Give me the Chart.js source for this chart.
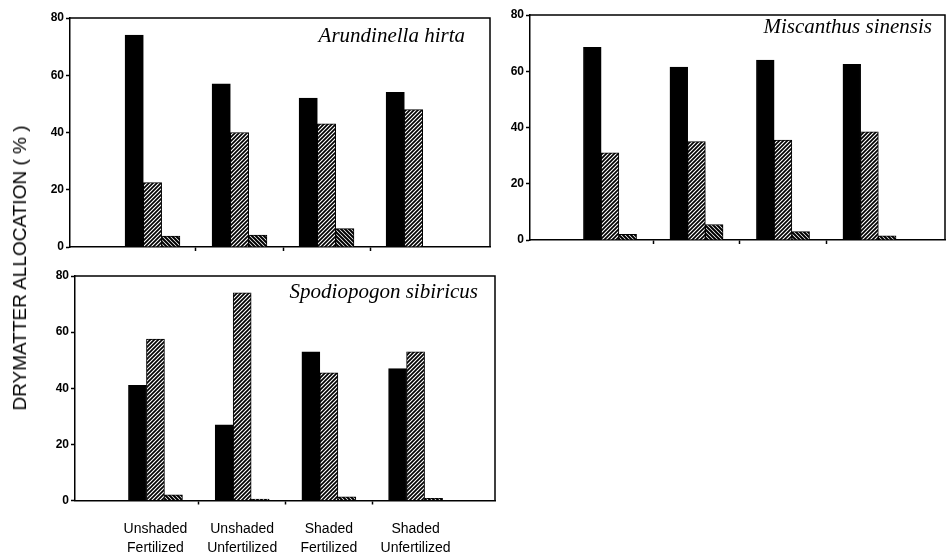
<!DOCTYPE html>
<html>
<head>
<meta charset="utf-8">
<script src="https://cdn.jsdelivr.net/npm/chart.js@4.4.1/dist/chart.umd.min.js"></script>
<style>
  body { margin: 0; background: #fff; width: 947px; height: 554px; position: relative; overflow: hidden; }
  canvas { position: absolute; }
  #ytitle {
    position: absolute; left: 20px; top: 268px;
    transform: translate(-50%, -50%) rotate(-90deg);
    font: 19px "Liberation Sans", Arial, sans-serif; white-space: nowrap; color: #000;
  }
</style>
</head>
<body>
<canvas id="arundinella" width="500" height="260" style="left:0;top:0"></canvas>
<canvas id="miscanthus" width="487" height="260" style="left:460px;top:0"></canvas>
<canvas id="spodiopogon" width="500" height="292" style="left:0;top:262px"></canvas>
<div id="ytitle">DRYMATTER ALLOCATION ( % )</div>
<script>
// treatments (x categories) and y ticks
const groups = [['Unshaded', 'Fertilized'], ['Unshaded', 'Unfertilized'], ['Shaded', 'Fertilized'], ['Shaded', 'Unfertilized']];
const yTicks = [0, 20, 40, 60, 80];

// dry matter allocation (%)
const arundinellaBlack = [74, 57, 52, 54];
const arundinellaHatched = [22.5, 40, 43, 48];
const arundinellaDark = [3.8, 4.2, 6.4, 0];

const miscanthusBlack = [68.5, 61.5, 64, 62.5];
const miscanthusHatched = [31, 35, 35.5, 38.5];
const miscanthusDark = [2, 5.5, 3, 1.5];

const spodiopogonBlack = [41, 27, 53, 47];
const spodiopogonHatched = [57.5, 74, 45.5, 53];
const spodiopogonDark = [2, 0.5, 1.3, 0.8];

function hatch(dir, s, lw) {
  const c = document.createElement('canvas');
  c.width = s; c.height = s;
  const g = c.getContext('2d');
  g.fillStyle = '#fff';
  g.fillRect(0, 0, s, s);
  g.strokeStyle = '#000';
  g.lineWidth = lw;
  g.beginPath();
  if (dir === '/') {
    g.moveTo(-1, s + 1); g.lineTo(s + 1, -1);
    g.moveTo(-1, 1); g.lineTo(1, -1);
    g.moveTo(s - 1, s + 1); g.lineTo(s + 1, s - 1);
  } else {
    g.moveTo(-1, -1); g.lineTo(s + 1, s + 1);
    g.moveTo(s - 1, -1); g.lineTo(s + 1, 1);
    g.moveTo(-1, s - 1); g.lineTo(1, s + 1);
  }
  g.stroke();
  return g.createPattern(c, 'repeat');
}

const slashFill = hatch('/', 4, 1.7);
const backFill = hatch('\\', 4, 2);

// frame (top + right) and species name inside the box
const framePlugin = {
  id: 'frame',
  afterDraw(chart, args, opts) {
    const { ctx, chartArea: a } = chart;
    ctx.save();
    ctx.strokeStyle = '#000';
    ctx.lineWidth = 1.5;
    ctx.beginPath();
    ctx.moveTo(a.left, a.top);
    ctx.lineTo(a.right, a.top);
    ctx.lineTo(a.right, a.bottom);
    ctx.stroke();
    ctx.font = 'italic 21px "Liberation Serif", "Times New Roman", serif';
    ctx.fillStyle = '#000';
    ctx.textAlign = 'right';
    ctx.textBaseline = 'alphabetic';
    ctx.fillText(opts.text, a.right - opts.dx, a.top + opts.dy);
    ctx.restore();
  }
};

function makeChart(id, black, hatched, dark, cfg) {
  const pts = arr => arr.map((v, i) => ({ x: i + 1, y: v }));
  const ds = (data, fill) => ({
    data: pts(data),
    backgroundColor: fill,
    borderColor: '#000',
    borderWidth: 1,
    barThickness: cfg.bar
  });
  return new Chart(document.getElementById(id), {
    type: 'bar',
    data: {
      datasets: [ds(black, '#000'), ds(hatched, slashFill), ds(dark, backFill)]
    },
    options: {
      responsive: false,
      animation: false,
      devicePixelRatio: 1,
      layout: { padding: { top: cfg.top, right: cfg.right, left: 0, bottom: 0 } },
      plugins: {
        legend: { display: false },
        tooltip: { enabled: false },
        frame: { text: cfg.title, dx: cfg.dx, dy: cfg.dy }
      },
      scales: {
        x: {
          type: 'linear',
          offset: false,
          min: cfg.xmin,
          max: cfg.xmax,
          afterBuildTicks: s => { s.ticks = [1, 1.5, 2, 2.5, 3, 3.5, 4].map(v => ({ value: v })); },
          afterFit: s => { s.height = cfg.xh; },
          border: { display: true, color: '#000', width: 1.5 },
          grid: {
            offset: false,
            drawOnChartArea: false,
            tickLength: 4,
            tickWidth: 1.5,
            tickColor: c => (c.tick && Number.isInteger(c.tick.value)) ? 'rgba(0,0,0,0)' : '#000'
          },
          ticks: {
            autoSkip: false,
            maxRotation: 0,
            padding: 15,
            color: '#000',
            font: { family: '"Liberation Sans", Arial, sans-serif', size: 14, lineHeight: 1.35 },
            callback: v => (cfg.labels && Number.isInteger(v)) ? groups[v - 1] : ''
          }
        },
        y: {
          min: 0,
          max: 80,
          afterBuildTicks: s => { s.ticks = yTicks.map(v => ({ value: v })); },
          afterFit: s => { s.width = cfg.yw; },
          border: { display: true, color: '#000', width: 1.5 },
          grid: { drawOnChartArea: false, tickLength: 4, tickWidth: 1.5, tickColor: '#000' },
          ticks: {
            padding: 2,
            color: '#000',
            font: { family: '"Liberation Sans", Arial, sans-serif', size: 12, weight: 'bold' }
          }
        }
      }
    },
    plugins: [framePlugin]
  });
}

makeChart('arundinella', arundinellaBlack, arundinellaHatched, arundinellaDark, {
  title: 'Arundinella hirta', dx: 25, dy: 24,
  top: 18, right: 10, yw: 70, xh: 13, bar: 18.3,
  xmin: 0.052, xmax: 4.879, labels: false
});

makeChart('miscanthus', miscanthusBlack, miscanthusHatched, miscanthusDark, {
  title: 'Miscanthus sinensis', dx: 13, dy: 18,
  top: 15, right: 2, yw: 70, xh: 20, bar: 17.7,
  xmin: 0.075, xmax: 4.873, labels: false
});

makeChart('spodiopogon', spodiopogonBlack, spodiopogonHatched, spodiopogonDark, {
  title: 'Spodiopogon sibiricus', dx: 17, dy: 22,
  top: 14, right: 5, yw: 75, xh: 53.5, bar: 18,
  xmin: 0.072, xmax: 4.916, labels: true
});
</script>
</body>
</html>
